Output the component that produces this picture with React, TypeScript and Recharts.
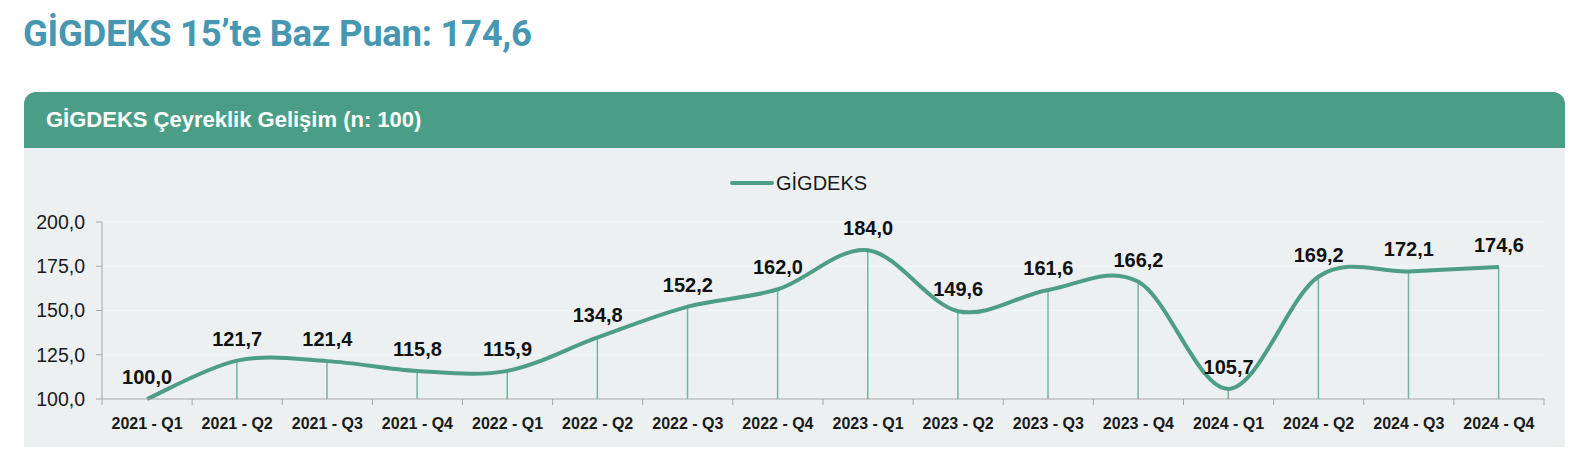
import React from "react";
import { ComposedChart, Line, Bar, XAxis, YAxis, CartesianGrid, LabelList } from "recharts";

const quarters = [
  "2021 - Q1", "2021 - Q2", "2021 - Q3", "2021 - Q4",
  "2022 - Q1", "2022 - Q2", "2022 - Q3", "2022 - Q4",
  "2023 - Q1", "2023 - Q2", "2023 - Q3", "2023 - Q4",
  "2024 - Q1", "2024 - Q2", "2024 - Q3", "2024 - Q4",
];
const gigdeks = [100.0, 121.7, 121.4, 115.8, 115.9, 134.8, 152.2, 162.0, 184.0, 149.6, 161.6, 166.2, 105.7, 169.2, 172.1, 174.6];
const yTicks = [100, 125, 150, 175, 200];

const data = quarters.map((q, i) => ({ q, v: gigdeks[i] }));

const GREEN = "#4d9e84";
const fmt = (n: number) => n.toFixed(1).replace(".", ",");

// excel-like smoothed line (catmull-rom)
const smooth: any = (ctx: any) => {
  let pts: number[][] = [];
  return {
    areaStart() {},
    areaEnd() {},
    lineStart() { pts = []; },
    point(x: number, y: number) { pts.push([x, y]); },
    lineEnd() {
      if (!pts.length) return;
      ctx.moveTo(pts[0][0], pts[0][1]);
      for (let i = 0; i < pts.length - 1; i++) {
        const p0 = pts[i - 1] || pts[i];
        const p1 = pts[i];
        const p2 = pts[i + 1];
        const p3 = pts[i + 2] || p2;
        ctx.bezierCurveTo(
          p1[0] + (p2[0] - p0[0]) / 6, p1[1] + (p2[1] - p0[1]) / 6,
          p2[0] - (p3[0] - p1[0]) / 6, p2[1] - (p3[1] - p1[1]) / 6,
          p2[0], p2[1]
        );
      }
    },
  };
};

const XTick = (props: any) => {
  const { x, y, payload, index } = props;
  const half = payload.offset || 45;
  return (
    <g>
      <line x1={x - half} x2={x - half} y1={y - 8} y2={y - 2} stroke="#a6a6a6" />
      {index === quarters.length - 1 && (
        <line x1={x + half} x2={x + half} y1={y - 8} y2={y - 2} stroke="#a6a6a6" />
      )}
      <text x={x} y={y + 22} textAnchor="middle" fontSize={16} fontWeight="bold" fill="#1a1a1a">
        {payload.value}
      </text>
    </g>
  );
};

export default function App() {
  return (
    <div style={{ position: "absolute", left: 0, top: 0, width: 1586, height: 476, background: "#fff", fontFamily: "'Liberation Sans', Arial, sans-serif" }}>
      <div style={{ position: "absolute", left: 23, top: 12, fontFamily: "Roboto, sans-serif", fontWeight: 700, fontSize: 36.5, color: "#4797b3", letterSpacing: -0.3 }}>
        GİGDEKS 15’te Baz Puan: 174,6
      </div>
      <div style={{ position: "absolute", left: 24, top: 92, width: 1541, height: 355, background: "#ecf0f1", borderRadius: "12px 12px 0 0", overflow: "hidden" }}>
        <div style={{ height: 56, background: "#4b9e86", color: "#fff", fontWeight: 700, fontSize: 22, lineHeight: "56px", paddingLeft: 22 }}>
          GİGDEKS Çeyreklik Gelişim (n: 100)
        </div>
        <div style={{ position: "absolute", left: 706, top: 78, height: 26, display: "flex", alignItems: "center", fontSize: 20, color: "#1a1a1a" }}>
          <span style={{ display: "inline-block", width: 44, height: 4, borderRadius: 2, background: GREEN, marginRight: 2 }} />
          GİGDEKS
        </div>
        <ComposedChart width={1541} height={299} data={data} margin={{ top: 74, right: 21, bottom: 18, left: 0 }}>
          <CartesianGrid vertical={false} stroke="#f4f7f7" />
          <XAxis dataKey="q" interval={0} tickLine={false} stroke="#a6a6a6" height={30} tick={<XTick />} />
          <YAxis
            domain={[100, 200]}
            ticks={yTicks}
            width={78}
            stroke="#a6a6a6"
            tickSize={6}
            tickMargin={11}
            tickFormatter={fmt}
            tick={{ fontSize: 19.5, fill: "#1a1a1a" }}
          />
          <Bar dataKey="v" barSize={1.5} fill="#72b69e" isAnimationActive={false} legendType="none" />
          <Line
            dataKey="v"
            type={smooth}
            stroke={GREEN}
            strokeWidth={4}
            dot={false}
            activeDot={false}
            isAnimationActive={false}
          >
            <LabelList dataKey="v" position="top" offset={15} formatter={(v: any) => fmt(Number(v))} fontSize={20} fontWeight="bold" fill="#111" />
          </Line>
        </ComposedChart>
      </div>
    </div>
  );
}
